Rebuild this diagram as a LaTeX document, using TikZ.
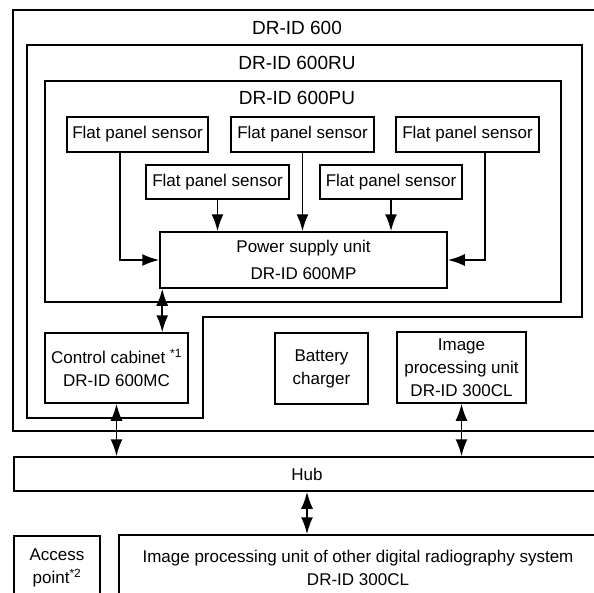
\documentclass[tikz,border=0pt]{standalone}
\usepackage{fontspec}
\setmainfont{Liberation Sans}
\usetikzlibrary{arrows.meta, positioning}
\tikzset{
    unit/.style={rectangle, draw, line width=1.5pt, align=center, inner sep=0pt, font=\fontsize{17}{23}\selectfont},
    frame/.style={draw, line width=1.5pt},
    title/.style={font=\fontsize{19}{23}\selectfont},
    arrow/.style={line width=1.9pt, -{Latex[length=17pt, width=12pt]}},
    biarrow/.style={line width=1.9pt, {Latex[length=17pt, width=12pt]}-{Latex[length=17pt, width=12pt]}}
}

\begin{document}
\begin{tikzpicture}[x=1pt, y=-1pt]
    \clip (0,0) rectangle (594,592);
    % nested frames
    \draw[frame, line width=2.8pt] (13,10) rectangle (610,431);
    \node[title] (sys) at (297,28) {DR-ID 600};
    \draw[frame] (27,45) -- (582,45) -- (582,317) -- (203,317) -- (203,418) -- (27,418) -- cycle;
    \node[title] (ru) at (297,63) {DR-ID 600RU};
    \draw[frame] (45,81) rectangle (561,302);
    \node[title] (pu) at (297,98) {DR-ID 600PU};

    % sensors
    \node[unit, minimum width=141pt, minimum height=35pt] (fps1) at (137.5,134.5) {Flat panel sensor};
    \node[unit, minimum width=143pt, minimum height=35pt] (fps2) at (302.5,134.5) {Flat panel sensor};
    \node[unit, minimum width=143pt, minimum height=35pt] (fps3) at (467.5,134.5) {Flat panel sensor};
    \node[unit, minimum width=143pt, minimum height=34pt] (fps4) at (217.5,182) {Flat panel sensor};
    \node[unit, minimum width=142pt, minimum height=34pt] (fps5) at (391,182) {Flat panel sensor};

    \node[unit, minimum width=287pt, minimum height=56pt, font=\fontsize{17}{27}\selectfont] (psu) at (303.5,260) {Power supply unit\\DR-ID 600MP};

    % lower units
    \node[unit, minimum width=143pt, minimum height=70pt] (cc) at (116.5,368) {Control cabinet \textsuperscript{*1}\\DR-ID 600MC};
    \node[unit, minimum width=93pt, minimum height=71pt] (bc) at (321.5,368.5) {Battery\\charger};
    \node[unit, minimum width=129pt, minimum height=71pt] (ipu) at (461.5,367.5) {Image\\processing unit\\DR-ID 300CL};

    \node[unit, minimum width=586pt, minimum height=34pt] (hub) at (307,474) {Hub};

    \node[unit, minimum width=86pt, minimum height=64pt] (ap) at (57,568) {Access\\point\textsuperscript{*2}};
    \node[unit, minimum width=478pt, minimum height=65pt] (other) at (358,567.5) {Image processing unit of other digital radiography system\\DR-ID 300CL};

    % connections
    \draw[arrow] ([xshift=-17.5pt]fps1.south) |- (psu.west);
    \draw[arrow] (fps4.south) -- (fps4.south |- psu.north);
    \draw[arrow] (fps2.south) -- (fps2.south |- psu.north);
    \draw[arrow] (fps5.south) -- (fps5.south |- psu.north);
    \draw[arrow] ([xshift=17.5pt]fps3.south) |- (psu.east);
    \draw[biarrow] ([xshift=3pt]psu.south west) -- ([xshift=3pt]psu.south west |- cc.north);
    \draw[biarrow] (cc.south) -- (cc.south |- hub.north);
    \draw[biarrow] (ipu.south) -- (ipu.south |- hub.north);
    \draw[biarrow] (hub.south) -- (hub.south |- other.north);
\end{tikzpicture}
\end{document}
